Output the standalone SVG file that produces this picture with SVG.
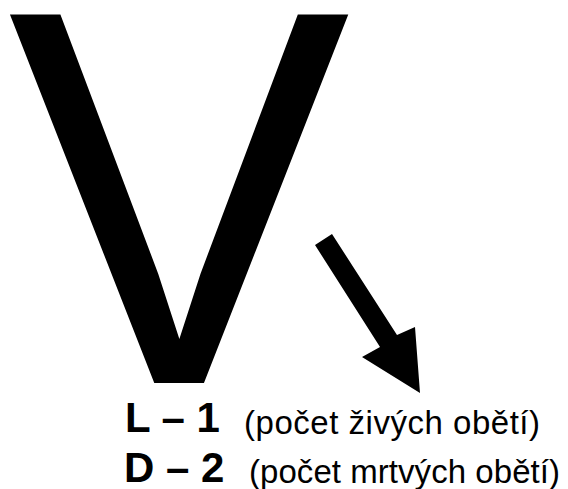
<svg xmlns="http://www.w3.org/2000/svg" width="568" height="489" viewBox="0 0 568 489">
<style>
.big{font-family:"Liberation Sans",Arial,sans-serif;font-size:514px;fill:#000}
.b{font-family:"Liberation Sans",Arial,sans-serif;font-size:42px;font-weight:bold;fill:#000}
.r{font-family:"Liberation Sans",Arial,sans-serif;font-size:33px;fill:#000}
</style>
<rect width="568" height="489" fill="#fff"/>
<g id="letter-v"><text class="big" x="7.7" y="0" transform="translate(0,383) scale(1,1.042)">V</text></g>
<g id="connectors"><path d="M315,245 L332,234 L397,335 L415,327 L420,393 L362,357 L380,347 Z" fill="#000"/></g>
<g id="legend-l"><text class="b" x="125" y="432">L – 1</text><text class="r" x="244" y="434" textLength="296" lengthAdjust="spacing">(počet živých obětí)</text></g>
<g id="legend-d"><text class="b" x="124" y="482">D – 2</text><text class="r" x="249" y="483" textLength="311" lengthAdjust="spacing">(počet mrtvých obětí)</text></g>
</svg>
